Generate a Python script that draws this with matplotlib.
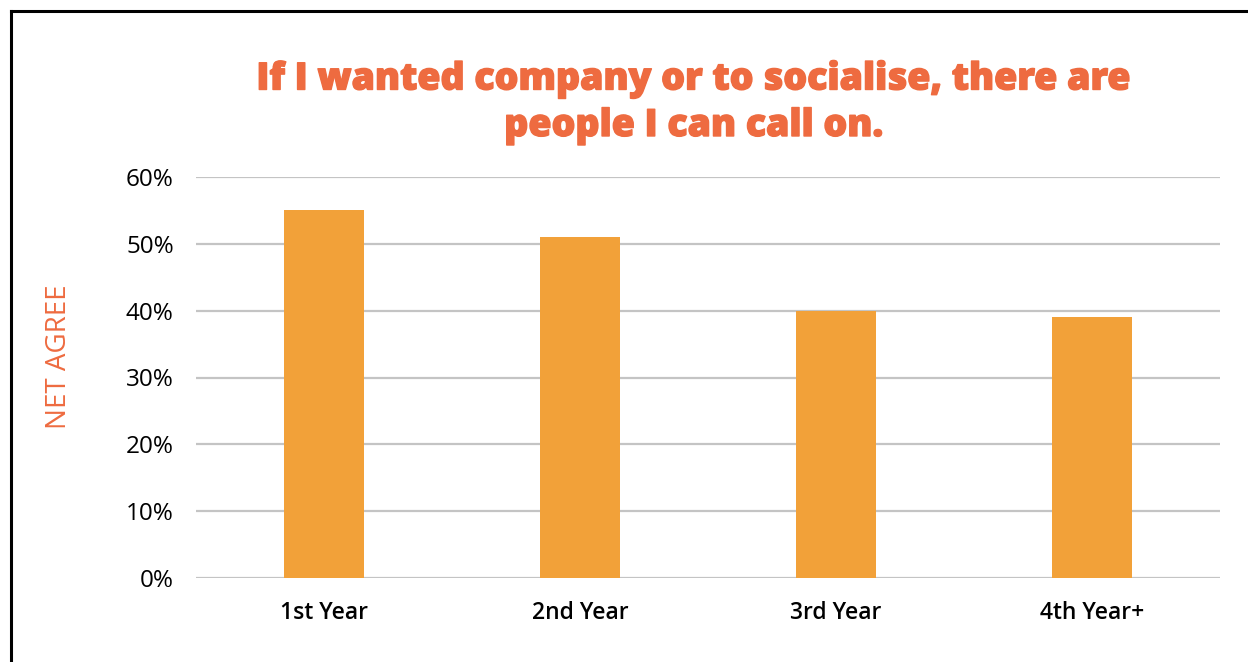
import matplotlib
matplotlib.use("Agg")
import matplotlib.pyplot as plt
from matplotlib.lines import Line2D
from matplotlib import patheffects

categories = ["1st Year", "2nd Year", "3rd Year", "4th Year+"]
net_agree = [55, 51, 40, 39]
y_ticks = [0, 10, 20, 30, 40, 50, 60]
y_tick_labels = [f"{t}%" for t in y_ticks]

title_text = "If I wanted company or to socialise, there are\npeople I can call on."
y_label = "NET AGREE"

ORANGE_TITLE = "#EE6B40"
BAR_COLOR = "#F2A139"
GRID_COLOR = "#C4C4C4"

plt.rcParams["font.family"] = ["Lato", "DejaVu Sans"]
TICK_FONT = ["Open Sans", "Lato", "DejaVu Sans"]

W, H = 1248, 662
fig = plt.figure(figsize=(W / 100, H / 100), dpi=100)
fig.patch.set_facecolor("white")

# plot area in pixels: left 196, right 1220, top 176.7 (60%), bottom 578.3 (0%)
left, right, top, bottom = 196, 1220, 176.7, 578.3
ax = fig.add_axes([left / W, 1 - bottom / H, (right - left) / W, (bottom - top) / H])

x = range(len(categories))
ax.bar(x, net_agree, width=0.315, color=BAR_COLOR, zorder=3)

ax.set_xlim(-0.5, len(categories) - 0.5)
ax.set_ylim(0, 60)
ax.set_yticks(y_ticks)
ax.set_yticklabels(y_tick_labels, fontsize=17.5, color="black",
                   family=TICK_FONT, fontweight="medium")
ax.set_xticks(list(x))
ax.set_xticklabels(categories, fontsize=16.5, color="black", fontweight="semibold",
                   family=TICK_FONT)
ax.tick_params(axis="both", length=0)
ax.tick_params(axis="y", pad=16)
ax.tick_params(axis="x", pad=16)

ax.yaxis.grid(True, color=GRID_COLOR, linewidth=1.6, zorder=0)
ax.set_axisbelow(True)
for s in ax.spines.values():
    s.set_visible(False)

ax.set_ylabel(y_label, fontsize=20, color=ORANGE_TITLE, family=TICK_FONT)
ax.yaxis.set_label_coords((73 - left) / (right - left), (bottom - 357) / (bottom - top))

title = fig.text(694 / W, 1 - 102 / H, title_text, ha="center", va="center",
                 fontsize=27, fontweight="extra bold", color=ORANGE_TITLE,
                 linespacing=1.25, family=["Open Sans", "Lato", "DejaVu Sans"])
title.set_path_effects([patheffects.withStroke(linewidth=1.0, foreground=ORANGE_TITLE)])

# frame lines along the top and left edges
fig.add_artist(Line2D([11 / W, 1.0], [1 - 11 / H, 1 - 11 / H],
                      transform=fig.transFigure, color="black", linewidth=2.2))
fig.add_artist(Line2D([11 / W, 11 / W], [1 - 11 / H, 0.0],
                      transform=fig.transFigure, color="black", linewidth=2.2))

fig.savefig("out.png", dpi=100, facecolor="white")
